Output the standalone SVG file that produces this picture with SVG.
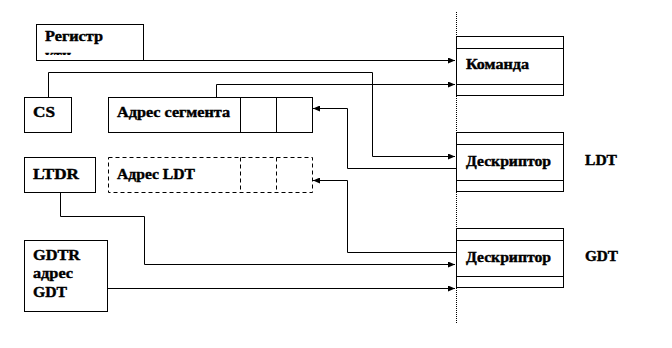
<svg xmlns="http://www.w3.org/2000/svg" width="672" height="348" viewBox="0 0 672 348">
<style>
  .box { fill: #fff; stroke: #000; stroke-width: 1; }
  .dbox { fill: #fff; stroke: #000; stroke-width: 1; stroke-dasharray: 4 3; }
  .ln { fill: none; stroke: #000; stroke-width: 1; }
  .dl { fill: none; stroke: #000; stroke-width: 1; stroke-dasharray: 4 3; }
  .t { font-family: "Liberation Serif", "DejaVu Serif", serif; font-weight: bold; font-size: 14px; fill: #000; stroke: #000; stroke-width: 0.4; }
  .conn { fill: none; stroke: #000; stroke-width: 1; }
</style>
<defs>
  <marker id="arr" markerWidth="8" markerHeight="6" refX="7" refY="3" orient="auto" markerUnits="userSpaceOnUse">
    <path d="M0,0 L7,3 L0,6 Z" fill="#000"/>
  </marker>
  <clipPath id="regclip"><rect x="36" y="24" width="108" height="31"/></clipPath>
</defs>
<rect width="672" height="348" fill="#fff"/>

<line x1="456.5" y1="12" x2="456.5" y2="324" stroke="#000" stroke-width="1" stroke-dasharray="1 1"/>

<g id="reg">
  <rect class="box" x="36.5" y="24.5" width="107" height="36"/>
  <text class="t" x="45" y="41" textLength="58" lengthAdjust="spacingAndGlyphs">Регистр</text>
  <text class="t" x="45" y="60" clip-path="url(#regclip)" textLength="26" lengthAdjust="spacingAndGlyphs">кти</text>
</g>

<g id="cs">
  <rect class="box" x="24.5" y="97.5" width="47" height="35"/>
  <text class="t" x="33" y="117" textLength="22" lengthAdjust="spacingAndGlyphs">CS</text>
</g>

<g id="segaddr">
  <rect class="box" x="108.5" y="97.5" width="204" height="35"/>
  <line class="ln" x1="240.5" y1="97.5" x2="240.5" y2="132.5"/>
  <line class="ln" x1="276.5" y1="97.5" x2="276.5" y2="132.5"/>
  <text class="t" x="117" y="117" textLength="113" lengthAdjust="spacingAndGlyphs">Адрес сегмента</text>
</g>

<g id="ltdr">
  <rect class="box" x="24.5" y="157.5" width="71" height="35"/>
  <text class="t" x="33" y="179" textLength="46" lengthAdjust="spacingAndGlyphs">LTDR</text>
</g>

<g id="ldtaddr">
  <rect class="dbox" x="108.5" y="157.5" width="204" height="35"/>
  <line class="dl" x1="240.5" y1="157.5" x2="240.5" y2="192.5"/>
  <line class="dl" x1="276.5" y1="157.5" x2="276.5" y2="192.5"/>
  <text class="t" x="117" y="179" textLength="78" lengthAdjust="spacingAndGlyphs">Адрес LDT</text>
</g>

<g id="gdtr">
  <rect class="box" x="24.5" y="240.5" width="83" height="71"/>
  <text class="t" x="33" y="260" textLength="47" lengthAdjust="spacingAndGlyphs">GDTR</text>
  <text class="t" x="33" y="278" textLength="40" lengthAdjust="spacingAndGlyphs">адрес</text>
  <text class="t" x="33" y="297" textLength="34" lengthAdjust="spacingAndGlyphs">GDT</text>
</g>

<g id="cmd">
  <rect class="box" x="456.5" y="36.5" width="107" height="59"/>
  <line class="ln" x1="456.5" y1="48.5" x2="563.5" y2="48.5"/>
  <line class="ln" x1="456.5" y1="84.5" x2="563.5" y2="84.5"/>
  <text class="t" x="466" y="69" textLength="63" lengthAdjust="spacingAndGlyphs">Команда</text>
</g>

<g id="descldt">
  <rect class="box" x="456.5" y="132.5" width="107" height="59"/>
  <line class="ln" x1="456.5" y1="144.5" x2="563.5" y2="144.5"/>
  <line class="ln" x1="456.5" y1="180.5" x2="563.5" y2="180.5"/>
  <text class="t" x="466" y="166" textLength="85" lengthAdjust="spacingAndGlyphs">Дескриптор</text>
</g>
<text id="lbl-ldt" class="t" x="585" y="165" textLength="32" lengthAdjust="spacingAndGlyphs">LDT</text>

<g id="descgdt">
  <rect class="box" x="456.5" y="228.5" width="107" height="59"/>
  <line class="ln" x1="456.5" y1="240.5" x2="563.5" y2="240.5"/>
  <line class="ln" x1="456.5" y1="276.5" x2="563.5" y2="276.5"/>
  <text class="t" x="466" y="262" textLength="85" lengthAdjust="spacingAndGlyphs">Дескриптор</text>
</g>
<text id="lbl-gdt" class="t" x="585" y="261" textLength="33" lengthAdjust="spacingAndGlyphs">GDT</text>

<g id="connectors">
  <path class="conn" d="M144,60.5 H455" marker-end="url(#arr)"/>
  <path class="conn" d="M48.5,97 V72.5 H372.5 V156.5 H455" marker-end="url(#arr)"/>
  <path class="conn" d="M216.5,97 V84.5 H455" marker-end="url(#arr)"/>
  <path class="conn" d="M456,168.5 H347.5 V108.5 H313" marker-end="url(#arr)"/>
  <path class="conn" d="M456,252.5 H347.5 V180.5 H313" marker-end="url(#arr)"/>
  <path class="conn" d="M60.5,193 V216.5 H144.5 V264.5 H455" marker-end="url(#arr)"/>
  <path class="conn" d="M108,288.5 H455" marker-end="url(#arr)"/>
</g>
</svg>
